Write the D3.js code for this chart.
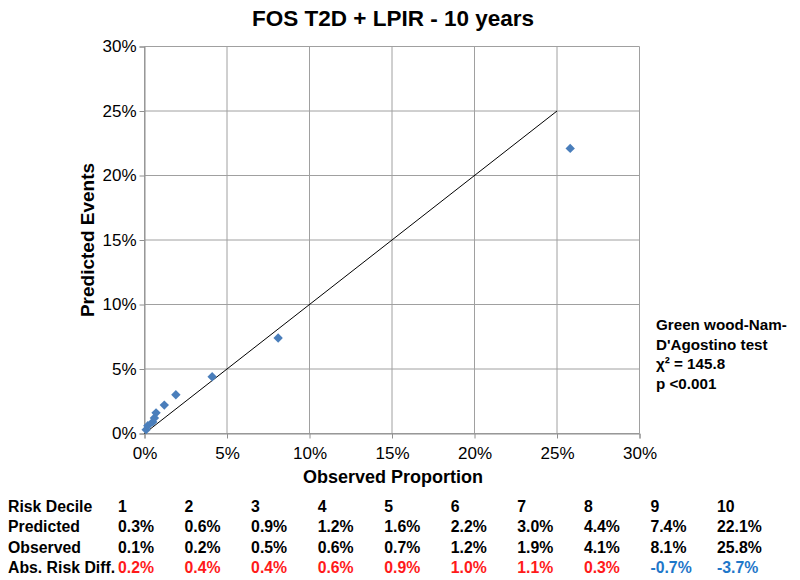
<!DOCTYPE html>
<html><head><meta charset="utf-8">
<script src="https://cdn.jsdelivr.net/npm/d3@7"></script>
<style>body{margin:0;background:#fff}svg{font-family:"Liberation Sans",Arial,sans-serif}</style>
</head><body><svg id="c" width="800" height="580"></svg>
<script>
const deciles = ["1","2","3","4","5","6","7","8","9","10"];
const predicted = [0.3,0.6,0.9,1.2,1.6,2.2,3.0,4.4,7.4,22.1];
const observed = [0.1,0.2,0.5,0.6,0.7,1.2,1.9,4.1,8.1,25.8];
const absDiff = [0.2,0.4,0.4,0.6,0.9,1.0,1.1,0.3,-0.7,-3.7];
const ticks = [0,5,10,15,20,25,30];
const refLine = [[0,0],[25,25]];
const annotation = ["Green wood-Nam-","D'Agostino test","χ² = 145.8","p <0.001"];

const svg = d3.select("#c");
const x = d3.scaleLinear().domain([0,30]).range([144.5,639.5]);
const y = d3.scaleLinear().domain([0,30]).range([433.5,46.5]);

svg.append("g").selectAll("line").data(ticks).join("line")
 .attr("x1",d=>x(d)).attr("x2",d=>x(d)).attr("y1",y(0)).attr("y2",y(30))
 .attr("stroke","#a0a0a0").attr("stroke-width",1);
svg.append("g").selectAll("line").data(ticks).join("line")
 .attr("x1",x(0)).attr("x2",x(30)).attr("y1",d=>y(d)).attr("y2",d=>y(d))
 .attr("stroke","#a0a0a0").attr("stroke-width",1);

const fmt = d=>d+"%";
const xa = svg.append("g").attr("transform",`translate(0,${y(0)})`)
 .call(d3.axisBottom(x).tickValues(ticks).tickFormat(fmt).tickSize(5).tickPadding(8));
const ya = svg.append("g").attr("transform",`translate(${x(0)},0)`)
 .call(d3.axisLeft(y).tickValues(ticks).tickFormat(fmt).tickSize(5).tickPadding(3));
[xa,ya].forEach(a=>{
  a.selectAll("path,line").attr("stroke","#909090");
  a.selectAll("text").attr("font-size",17).attr("fill","#000").attr("font-family","Liberation Sans, Arial");
});

svg.append("path").datum(refLine)
 .attr("d",d3.line().x(d=>x(d[0])).y(d=>y(d[1])))
 .attr("stroke","#000").attr("stroke-width",1).attr("fill","none");

svg.append("g").selectAll("path").data(observed.map((o,i)=>[o,predicted[i]])).join("path")
 .attr("transform",d=>`translate(${x(d[0])},${y(d[1])})`)
 .attr("d",d3.symbol(d3.symbolDiamond2,56))
 .attr("fill","#4a7ebb");

svg.append("text").attr("x",393).attr("y",26).attr("text-anchor","middle")
 .attr("font-size",22.5).attr("font-weight","bold").text("FOS T2D + LPIR - 10 years");
svg.append("text").attr("x",393).attr("y",483).attr("text-anchor","middle")
 .attr("font-size",18).attr("font-weight","bold").text("Observed Proportion");
svg.append("text").attr("transform","translate(94,240) rotate(-90)").attr("text-anchor","middle")
 .attr("font-size",19).attr("font-weight","bold").text("Predicted Events");

svg.append("g").selectAll("text").data(annotation).join("text")
 .attr("x",656).attr("y",(d,i)=>330+i*19.5).attr("font-size",15.2).attr("font-weight","bold").text(d=>d);

const colX = d3.scalePoint().domain(deciles).range([118,717]);
const rows = [
 {label:"Risk Decile", vals:deciles, color:()=>"#000"},
 {label:"Predicted", vals:predicted.map(v=>v.toFixed(1)+"%"), color:()=>"#000"},
 {label:"Observed", vals:observed.map(v=>v.toFixed(1)+"%"), color:()=>"#000"},
 {label:"Abs. Risk Diff.", vals:absDiff.map(v=>v.toFixed(1)+"%"), color:(i)=>absDiff[i]<0?"#1f77c9":"#ff1a1a"}
];
rows.forEach((r,ri)=>{
  const yy = 512+ri*20.3;
  svg.append("text").attr("x",8).attr("y",yy).attr("font-size",15.8).attr("font-weight","bold").text(r.label);
  svg.append("g").selectAll("text").data(r.vals).join("text")
   .attr("x",(d,i)=>colX(deciles[i])).attr("y",yy).attr("font-size",15.8).attr("font-weight","bold")
   .attr("fill",(d,i)=>r.color(i)).text(d=>d);
});
</script></body></html>
